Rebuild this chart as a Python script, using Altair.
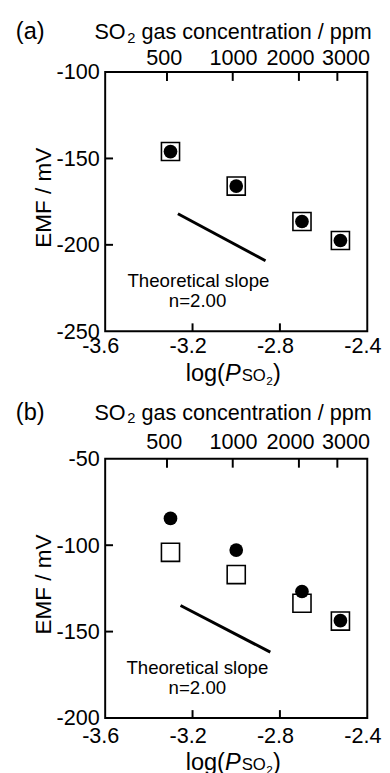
import altair as alt
import pandas as pd

FONT = "Liberation Sans"
W, H = 267, 264

# ---- data ----
log_p = [-3.301, -3.0, -2.699, -2.523]
a_square = [-146.0, -166.0, -186.5, -197.5]
a_circle = [-146.0, -166.0, -186.5, -197.5]
b_square = [-104.1, -117.0, -133.6, -143.9]
b_circle = [-84.5, -102.8, -126.8, -143.7]
a_slope_x = [-3.267, -2.866]
a_slope_y = [-182.0, -209.2]
b_slope_x = [-3.255, -2.844]
b_slope_y = [-134.9, -161.9]
x_ticks = [-3.6, -3.2, -2.8, -2.4]
x_inner_ticks = [-3.2, -2.8]
a_y_ticks = [-250, -200, -150, -100]
b_y_ticks = [-200, -150, -100, -50]
ppm_labels = ["500", "1000", "2000", "3000"]
ppm_tick_pos = [-3.317, -3.016, -2.713, -2.537]
ppm_label_pos = [-3.329, -3.013, -2.751, -2.497]
slope_text = ["Theoretical slope", "n=2.00"]
a_text_x = [-3.173, -3.177]
a_text_y = [-224.2, -235.8]
b_text_x = [-3.178, -3.178]
b_text_y = [-174.5, -186.2]

MINUS_FIX = "replace(datum.label, '\u2212', '-')"


def txt(s, px, py, size, align="left", style="normal", angle=0, baseline="alphabetic"):
    return alt.Chart(pd.DataFrame({"t": [s]})).mark_text(
        font=FONT, fontSize=size, align=align, baseline=baseline,
        fontStyle=style, angle=angle, color="black"
    ).encode(x=alt.value(px), y=alt.value(py), text="t:N")


def panel(tag, sq, ci, sx, sy, yt, tx, ty, title_base, label_base, bottom_pad, log_base):
    xs = alt.Scale(domain=[-3.6, -2.4], nice=False, zero=False)
    ys = alt.Scale(domain=[yt[0], yt[-1]], nice=False, zero=False)
    common = dict(title=None, domain=False, ticks=False, grid=False, labelFont=FONT,
                  labelFontSize=22, labelColor="black", labelFlush=False,
                  labelOverlap=False, labelExpr=MINUS_FIX)
    xaxis = alt.Axis(values=x_ticks, format=".1f", labelPadding=bottom_pad,
                     labelOffset=-5, **common)
    yaxis = alt.Axis(values=yt, format="d", labelPadding=6, **common)
    X = alt.X("x:Q", scale=xs, axis=xaxis)
    Y = alt.Y("y:Q", scale=ys, axis=yaxis)

    sq_df = pd.DataFrame({"x": log_p, "y": sq})
    ci_df = pd.DataFrame({"x": log_p, "y": ci})
    line_df = pd.DataFrame({"x": sx, "y": sy})
    ann_df = pd.DataFrame({"x": tx, "y": ty, "t": slope_text})
    btick_df = pd.DataFrame({"x": x_inner_ticks})
    ttick_df = pd.DataFrame({"x": ppm_tick_pos})
    tlab_df = pd.DataFrame({"x": ppm_label_pos, "t": ppm_labels})
    ltick_df = pd.DataFrame({"y": yt[1:-1]})

    squares = alt.Chart(sq_df).mark_point(
        shape="square", filled=True, fill="white", stroke="black",
        strokeWidth=1.6, size=340, opacity=1
    ).encode(x=X, y=Y)
    circles = alt.Chart(ci_df).mark_point(
        shape="circle", filled=True, color="black", size=195, opacity=1
    ).encode(x=X, y=Y)
    slope = alt.Chart(line_df).mark_line(color="black", strokeWidth=3).encode(x=X, y=Y)
    ann = alt.Chart(ann_df).mark_text(
        font=FONT, fontSize=19, align="center", baseline="alphabetic", color="black"
    ).encode(x=X, y=Y, text="t:N")
    bt = alt.Chart(btick_df).mark_rule(color="black", strokeWidth=2).encode(
        x=X, y=alt.value(H), y2=alt.value(H - 8))
    tt = alt.Chart(ttick_df).mark_rule(color="black", strokeWidth=2).encode(
        x=X, y=alt.value(0), y2=alt.value(9))
    lt = alt.Chart(ltick_df).mark_rule(color="black", strokeWidth=2).encode(
        y=Y, x=alt.value(0), x2=alt.value(8))
    tl = alt.Chart(tlab_df).mark_text(
        font=FONT, fontSize=22, align="center", baseline="alphabetic", color="black"
    ).encode(x=X, y=alt.value(label_base), text="t:N")

    texts = [
        txt(tag, -91, title_base, 24),
        txt("SO", -11, title_base, 22),
        txt("2", 22.5, title_base + 4, 15),
        txt("gas concentration / ppm", 37, title_base, 22),
        txt("EMF / mV", -62.5, 128, 23, align="center", angle=270, baseline="middle"),
        txt("log(", 82, log_base, 24),
        txt("P", 122, log_base, 24, style="italic"),
        txt("SO", 139, log_base, 17),
        txt("2", 164, log_base + 4, 12),
        txt(")", 171, log_base, 24),
    ]
    return alt.layer(squares, circles, slope, ann, bt, tt, lt, tl, *texts).properties(
        width=W, height=H)


pa = panel("(a)", a_square, a_circle, a_slope_x, a_slope_y, a_y_ticks,
           a_text_x, a_text_y, -34, -7.5, 5, H + 51)
pb = panel("(b)", b_square, b_circle, b_slope_x, b_slope_y, b_y_ticks,
           b_text_x, b_text_y, -40, -10, 8, H + 53)

chart = alt.vconcat(pa, pb, spacing=12).properties(
    padding={"left": 7, "top": 4, "right": 0, "bottom": 0}
).configure_view(stroke="black", strokeWidth=2)

chart.save("out.html", embed_options={"renderer": "svg", "actions": False})
